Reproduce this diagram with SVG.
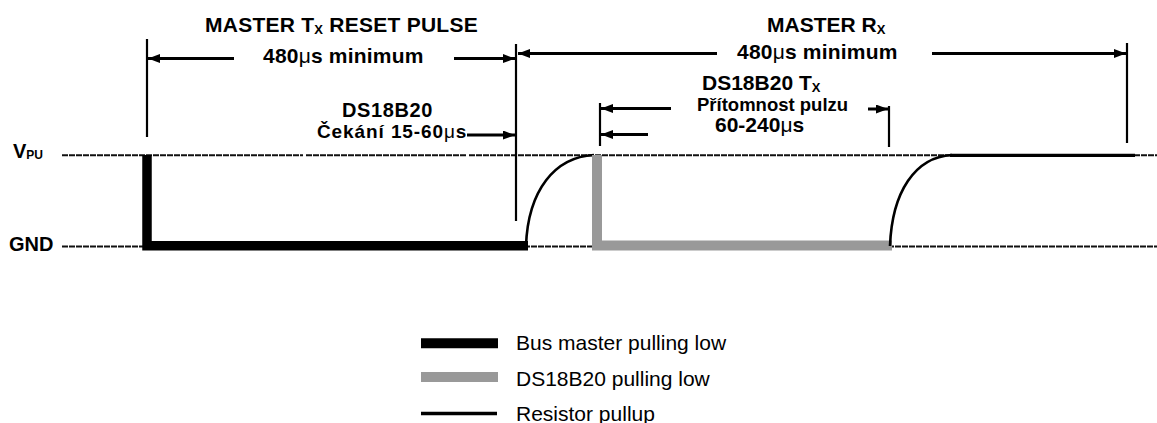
<svg xmlns="http://www.w3.org/2000/svg" width="1157" height="423" viewBox="0 0 1157 423">
<defs>
<marker id="ah" markerUnits="userSpaceOnUse" markerWidth="13" markerHeight="10" refX="12" refY="4.5" orient="auto">
<path d="M0,0 L12,4.5 L0,9 z" fill="#000"/>
</marker>
<style>
.t{font-family:"Liberation Sans",Arial,sans-serif;font-weight:bold;fill:#000}
.l{font-family:"Liberation Sans",Arial,sans-serif;font-size:21px;fill:#000}
.mu{font-weight:normal}
.ref{stroke:#111;stroke-width:2;stroke-dasharray:6 1;fill:none}
.tick{stroke:#000;stroke-width:2.2;fill:none}
.arr{stroke:#000;stroke-width:3;fill:none;marker-end:url(#ah)}
.master{stroke:#000;stroke-width:9.5;fill:none;stroke-linejoin:miter}
.slave{stroke:#999;stroke-width:10;fill:none;stroke-linejoin:miter}
.pull{stroke:#000;stroke-width:2.6;fill:none}
</style>
</defs>
<rect width="1157" height="423" fill="#fff"/>

<g id="levels">
<path class="ref" d="M62,155.3 H303 M306,155.3 H466 M469,155.3 H1157"/>
<path class="ref" d="M62,246.5 H1157"/>
<text class="t" x="13" y="158" font-size="20">V<tspan font-size="12" dy="1">PU</tspan></text>
<text class="t" x="9" y="251" font-size="20">GND</text>
</g>

<g id="waveform">
<path class="master" d="M147,155 V245.7 H528"/>
<path class="pull" d="M526,246 C528,190 555,157 594,155"/>
<path class="slave" d="M597,155 V245.5 H892"/>
<path class="pull" d="M890,246 C892,192 915,157 952,155"/>
<path d="M950,155.3 H1135" stroke="#000" stroke-width="3.3"/>
</g>

<g id="connectors">
<path class="tick" d="M147,39 V137"/>
<path class="tick" d="M516,44 V221"/>
<path class="tick" d="M600,103 V146"/>
<path class="tick" d="M889,106 V147"/>
<path class="tick" d="M1127,43 V143"/>
<path class="arr" d="M234,58.5 H148"/>
<path class="arr" d="M454,58.5 H515"/>
<path class="arr" d="M717,53.5 H518"/>
<path class="arr" d="M932,53.5 H1126"/>
<path class="arr" d="M467,135 H515"/>
<path class="arr" d="M671,108.5 H601"/>
<path class="arr" d="M648,134.5 H601"/>
<path class="arr" d="M868,109 H888"/>
</g>

<g id="reset-label">
<text class="t" x="205" y="31.5" font-size="21" letter-spacing="0.25">MASTER T<tspan font-size="13" dy="2">X</tspan><tspan dy="-2"> RESET PULSE</tspan></text>
<text class="t" x="263" y="63" font-size="21" letter-spacing="0.2">480<tspan class="mu">μ</tspan>s minimum</text>
</g>

<g id="wait-label">
<text class="t" x="342" y="116.5" font-size="20" letter-spacing="0.6">DS18B20</text>
<text class="t" x="317" y="138" font-size="19" letter-spacing="0.9">Čekání 15-60<tspan class="mu">μ</tspan>s</text>
</g>

<g id="rx-label">
<text class="t" x="767" y="31.5" font-size="21">MASTER R<tspan font-size="13" dy="2">X</tspan></text>
<text class="t" x="737" y="58.5" font-size="21" letter-spacing="0.2">480<tspan class="mu">μ</tspan>s minimum</text>
</g>

<g id="presence-label">
<text class="t" x="702" y="90" font-size="21">DS18B20 T<tspan font-size="13" dy="2">X</tspan></text>
<text class="t" x="697" y="111" font-size="18.5">Přítomnost pulzu</text>
<text class="t" x="715" y="132" font-size="21">60-240<tspan class="mu">μ</tspan>s</text>
</g>

<g id="legend">
<path d="M421,343.3 H498" stroke="#000" stroke-width="10"/>
<path d="M421,377 H498" stroke="#999" stroke-width="10"/>
<path d="M421,413.5 H497" stroke="#000" stroke-width="3.5"/>
<text class="l" x="516" y="349.5">Bus master pulling low</text>
<text class="l" x="516" y="386">DS18B20 pulling low</text>
<text class="l" x="516" y="421">Resistor pullup</text>
</g>
</svg>
